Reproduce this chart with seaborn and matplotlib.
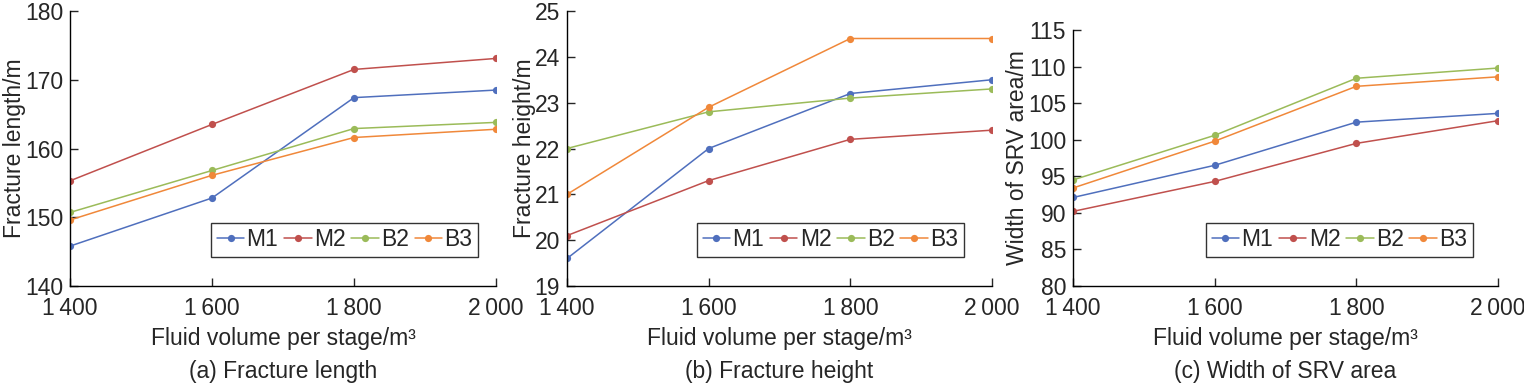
import pandas as pd
import matplotlib.pyplot as plt
import seaborn as sns

# data
volume = [1400, 1600, 1800, 2000]
cases = ['M1', 'M2', 'B2', 'B3']

length_M1 = [145.8, 152.8, 167.4, 168.5]
length_M2 = [155.3, 163.5, 171.5, 173.1]
length_B2 = [150.7, 156.8, 162.9, 163.8]
length_B3 = [149.6, 156.1, 161.6, 162.8]

height_M1 = [19.6, 22.0, 23.2, 23.5]
height_M2 = [20.1, 21.3, 22.2, 22.4]
height_B2 = [22.0, 22.8, 23.1, 23.3]
height_B3 = [21.0, 22.9, 24.4, 24.4]

width_M1 = [92.1, 96.5, 102.4, 103.6]
width_M2 = [90.2, 94.3, 99.5, 102.6]
width_B2 = [94.5, 100.6, 108.4, 109.8]
width_B3 = [93.4, 99.8, 107.3, 108.6]

x_ticklabels = ['1\u2009400', '1\u2009600', '1\u2009800', '2\u2009000']
colors = ['#4F6FBD', '#C0504D', '#9BBB59', '#F0883A']


def make_df(series):
    rows = []
    for case, vals in zip(cases, series):
        for v, y in zip(volume, vals):
            rows.append({'volume': v, 'value': y, 'case': case})
    return pd.DataFrame(rows)


sns.set_style('ticks')
plt.rcParams['font.family'] = ['Liberation Sans', 'DejaVu Sans']
fs = 16.5

fig = plt.figure(figsize=(15.24, 3.86), dpi=100)
W, H = 1524, 386

panels = [
    dict(series=[length_M1, length_M2, length_B2, length_B3],
         box=(70, 11, 496, 286), ylim=(140, 180), yticks=range(140, 181, 10),
         ylabel='Fracture length/m', title='(a) Fracture length', leg=(0.958, 0.105)),
    dict(series=[height_M1, height_M2, height_B2, height_B3],
         box=(567, 11, 992, 286), ylim=(19, 25), yticks=range(19, 26),
         ylabel='Fracture height/m', title='(b) Fracture height', leg=(0.934, 0.105)),
    dict(series=[width_M1, width_M2, width_B2, width_B3],
         box=(1073, 30, 1498, 286), ylim=(80, 115), yticks=range(80, 116, 5),
         ylabel='Width of SRV area/m', title='(c) Width of SRV area', leg=(0.941, 0.113)),
]

for p in panels:
    x0, y0, x1, y1 = p['box']
    ax = fig.add_axes([x0 / W, (H - y1) / H, (x1 - x0) / W, (y1 - y0) / H])
    df = make_df(p['series'])
    sns.lineplot(data=df, x='volume', y='value', hue='case', palette=colors,
                 marker='o', markersize=5.2, markeredgewidth=0, linewidth=1.1, ax=ax)
    ax.set_xlim(1400, 2000)
    ax.set_ylim(*p['ylim'])
    ax.set_xticks(volume)
    ax.set_xticklabels(x_ticklabels)
    ax.set_yticks(list(p['yticks']))
    ax.tick_params(axis='x', direction='in', length=6, width=1, pad=8, labelsize=fs)
    ax.tick_params(axis='y', direction='in', length=6, width=1, pad=5, labelsize=fs)
    for s in ['top', 'right']:
        ax.spines[s].set_visible(False)
    for s in ['left', 'bottom']:
        ax.spines[s].set_linewidth(1)
        ax.spines[s].set_color('black')
    ax.set_xlabel('Fluid volume per stage/m\u00b3', fontsize=fs, labelpad=5)
    ax.set_ylabel(p['ylabel'], fontsize=fs, labelpad=-1)
    ax.annotate(p['title'], xy=(0.5, 0), xycoords='axes fraction', xytext=(0, -74),
                textcoords='offset pixels', ha='center', va='top', fontsize=fs)
    leg = ax.legend(loc='lower right', bbox_to_anchor=p['leg'], ncol=4, frameon=True,
                    fancybox=False, edgecolor='black', borderaxespad=0, handlelength=1.2,
                    handletextpad=0.1, columnspacing=0.25, borderpad=0.25, fontsize=fs)
    leg.get_frame().set_linewidth(1)

plt.savefig('out.png', dpi=100)
plt.close()
